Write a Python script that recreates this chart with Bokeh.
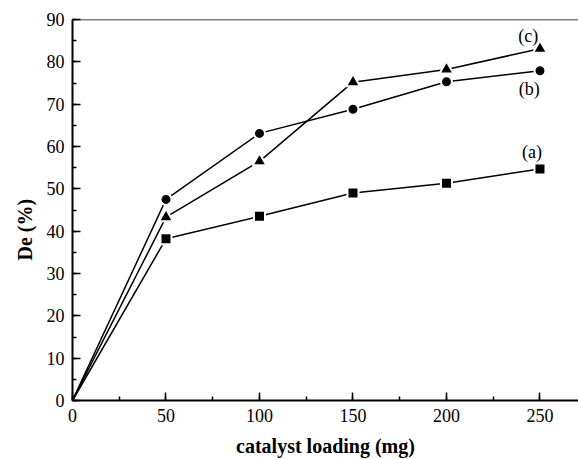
from bokeh.plotting import figure
from bokeh.models import Range1d, SingleIntervalTicker, Span, Label, Title
from bokeh.embed import file_html
from bokeh.resources import INLINE

loading = [0, 50, 100, 150, 200, 250]
series_a = [0, 38.2, 43.5, 49.0, 51.3, 54.7]
series_b = [0, 47.5, 63.1, 68.8, 75.3, 77.9]
series_c = [0, 43.3, 56.5, 75.2, 78.2, 83.1]
series_names = ["(a)", "(b)", "(c)"]
x_title = "catalyst loading (mg)"
y_title = "De (%)"

SERIF = "Liberation Serif"

p = figure(width=578, height=459, output_backend="svg", toolbar_location=None,
           x_range=Range1d(0, 270.6), y_range=Range1d(0, 90),
           min_border_left=72, min_border_right=0, min_border_top=19,
           min_border_bottom=59)
p.outline_line_color = None
p.grid.grid_line_color = None
p.background_fill_color = "white"
p.border_fill_color = "white"

for ax, interval in ((p.xaxis[0], 50), (p.yaxis[0], 10)):
    ax.ticker = SingleIntervalTicker(interval=interval, num_minor_ticks=2)
    ax.axis_line_width = 2
    ax.major_tick_in = 8
    ax.major_tick_out = 0
    ax.minor_tick_in = 4
    ax.minor_tick_out = 0
    ax.major_tick_line_width = 1.5
    ax.minor_tick_line_width = 1.5
    ax.major_label_text_font = SERIF
    ax.major_label_text_font_size = "18px"
    ax.major_label_text_color = "black"
    ax.major_label_standoff = 8

p.xaxis.axis_label = x_title
p.xaxis.axis_label_text_font = SERIF
p.xaxis.axis_label_text_font_size = "20px"
p.xaxis.axis_label_text_font_style = "bold"
p.xaxis.axis_label_text_color = "black"
p.xaxis.axis_label_standoff = 10

p.add_layout(Title(text=y_title, align="left", offset=140, standoff=16,
                   text_font=SERIF, text_font_size="20px", text_font_style="bold",
                   text_color="black"), "left")

p.add_layout(Span(location=90, dimension="width", line_color="black", line_width=1.5))

for ys, marker, sz in ((series_a, "square", 8), (series_b, "circle", 8), (series_c, "triangle", 11)):
    p.line(loading, ys, line_color="black", line_width=1.5)
    p.scatter(loading[1:], ys[1:], marker=marker, size=sz + 3, fill_color="black",
              line_color="white", line_width=2)

label_pos = [(245.7, 58.6), (244.2, 73.7), (243.7, 86.0)]
for name, (lx, ly) in zip(series_names, label_pos):
    p.add_layout(Label(x=lx, y=ly, text=name, text_font=SERIF, text_font_size="18px",
                       text_align="center", text_baseline="middle", text_color="black"))

open("out.html", "w").write(file_html(p, INLINE))
